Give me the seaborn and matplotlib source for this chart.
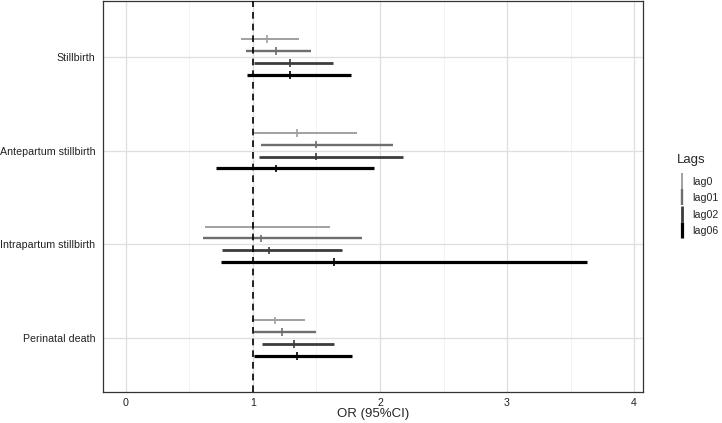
import matplotlib
matplotlib.use("Agg")
import matplotlib.pyplot as plt
from matplotlib.lines import Line2D
import seaborn as sns
import numpy as np
import pandas as pd

outcomes = ["Stillbirth", "Antepartum stillbirth", "Intrapartum stillbirth", "Perinatal death"]
lags = ["lag0", "lag01", "lag02", "lag06"]

# OR, lower, upper per outcome (rows in lags order)
or_est = [[1.11, 1.18, 1.29, 1.29],
          [1.35, 1.50, 1.50, 1.18],
          [1.00, 1.06, 1.13, 1.64],
          [1.17, 1.23, 1.32, 1.35]]
ci_low = [[0.91, 0.945, 1.01, 0.95],
          [1.005, 1.06, 1.045, 0.71],
          [0.62, 0.61, 0.755, 0.745],
          [0.99, 1.005, 1.075, 1.01]]
ci_high = [[1.36, 1.46, 1.63, 1.77],
           [1.82, 2.10, 2.18, 1.95],
           [1.61, 1.86, 1.70, 3.63],
           [1.41, 1.50, 1.64, 1.78]]

rows = []
for i, o in enumerate(outcomes):
    for j, l in enumerate(lags):
        rows.append(dict(outcome=o, lag=l, OR=or_est[i][j], lo=ci_low[i][j], hi=ci_high[i][j]))
df = pd.DataFrame(rows)

colors = {"lag0": "#a0a0a0", "lag01": "#6e6e6e", "lag02": "#3c3c3c", "lag06": "#000000"}
widths = {"lag0": 1.4, "lag01": 1.7, "lag02": 2.0, "lag06": 2.3}
offsets = {"lag0": -0.19, "lag01": -0.064, "lag02": 0.064, "lag06": 0.19}

sns.set_style("white")
plt.rcParams["font.family"] = ["Liberation Sans", "DejaVu Sans"]

fig = plt.figure(figsize=(7.22, 4.23), dpi=100)
ax = fig.add_axes([103 / 722, 31 / 423, 540 / 722, 391 / 423])

df["ypos"] = df["outcome"].map({o: i for i, o in enumerate(outcomes)}) + df["lag"].map(offsets)

for l in lags:
    d = df[df["lag"] == l]
    ax.hlines(d["ypos"], d["lo"], d["hi"], color=colors[l], lw=widths[l], zorder=3)
sns.scatterplot(data=df, x="OR", y="ypos", hue="lag", palette=colors, marker="|",
                s=30, linewidth=1.2, legend=False, ax=ax, zorder=4)

ax.axvline(1, color="black", linestyle=(0, (4, 3)), lw=1.2, zorder=5)

ax.set_xlim(-0.18, 4.07)
ax.set_ylim(3.574, -0.596)
ax.set_xticks([0, 1, 2, 3, 4])
ax.set_xticks([0.5, 1.5, 2.5, 3.5], minor=True)
ax.set_yticks(range(len(outcomes)))
ax.set_yticklabels(outcomes)
ax.grid(True, which="major", color="#dedede", lw=0.9, zorder=0)
ax.grid(True, which="minor", axis="x", color="#efefef", lw=0.5, zorder=0)
ax.set_axisbelow(True)
for s in ax.spines.values():
    s.set_color("#333333")
    s.set_linewidth(0.9)
ax.tick_params(axis="both", which="major", length=3, width=0.8, color="#333333",
               labelsize=7.7, labelcolor="#222222", pad=2.5)
ax.tick_params(axis="x", pad=1)
ax.tick_params(which="minor", length=0)
ax.set_xlabel("OR (95%CI)", fontsize=9.5, va="center")
ax.xaxis.set_label_coords(0.5, -0.056)
ax.set_ylabel("")

handles = [Line2D([0], [0], color=colors[l], marker="|", linestyle="None",
                  markersize=11, markeredgewidth=widths[l]) for l in lags]
leg = fig.legend(handles, lags, title="Lags", loc="upper left",
                 bbox_to_anchor=(667 / 722, 1 - 144 / 423), frameon=False,
                 fontsize=7.7, title_fontsize=9.5, handlelength=1.0, handletextpad=0.5,
                 labelspacing=0.6, alignment="left")
leg._legend_box.sep = 8

fig.savefig("out.png", dpi=100)
